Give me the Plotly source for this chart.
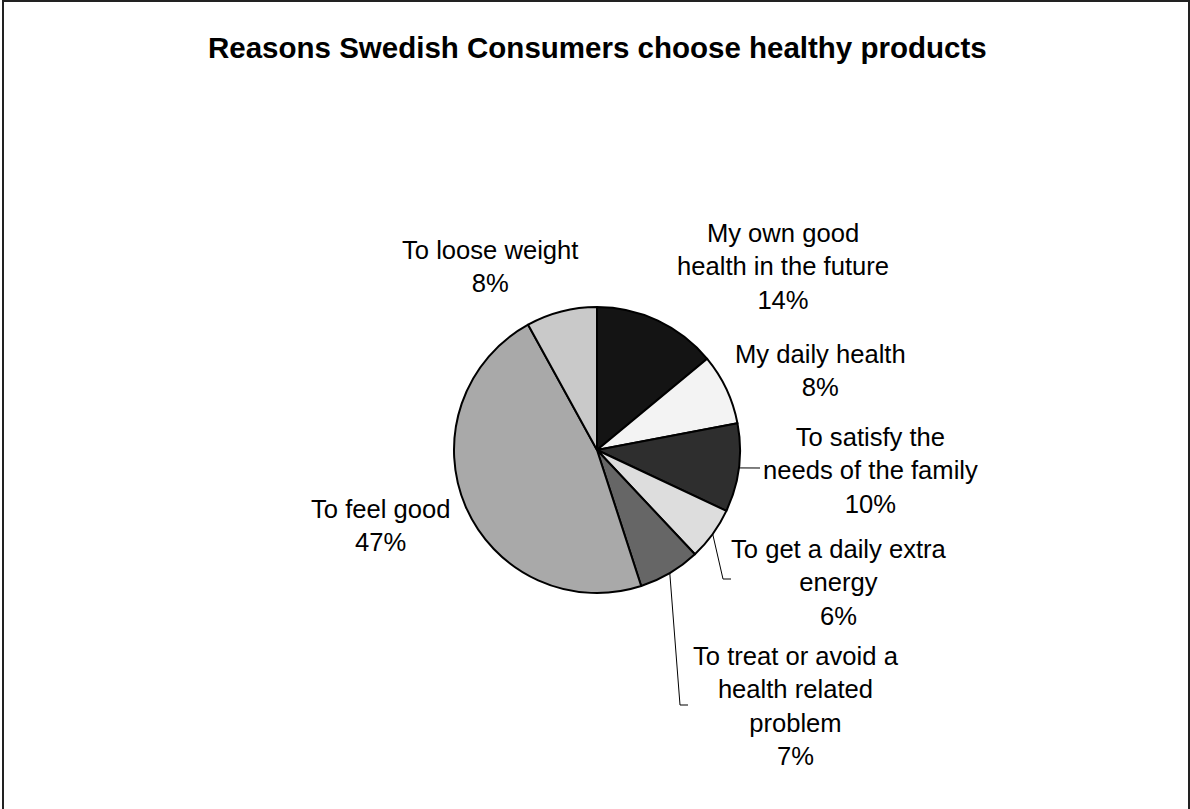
import math
import plotly.graph_objects as go

W, H = 1190, 809

categories = [
    "My own good<br>health in the future",
    "My daily health",
    "To satisfy the<br>needs of the family",
    "To get a daily extra<br>energy",
    "To treat or avoid a<br>health related<br>problem",
    "To feel good",
    "To loose weight",
]
values = [14, 8, 10, 6, 7, 47, 8]
colors = ["#141414", "#f3f3f3", "#2e2e2e", "#dddddd", "#666666", "#a9a9a9", "#c9c9c9"]

title_text = "Reasons Swedish Consumers choose healthy products"

# pie placement in pixels
cx, cy, R = 597, 450, 143

# label centre positions (pixels)
label_pos = [(783, 266), (820, 370), (870, 470), (839, 582), (796, 706), (381, 525), (490, 266)]


def px(x, y):
    return x / W, 1 - y / H


fig = go.Figure(go.Pie(
    labels=[c.replace("<br>", " ") for c in categories],
    values=values,
    sort=False,
    direction="clockwise",
    rotation=0,
    marker=dict(colors=colors, line=dict(color="black", width=2)),
    textinfo="none",
    hoverinfo="label+percent",
    showlegend=False,
    domain=dict(x=[(cx - R) / W, (cx + R) / W], y=[1 - (cy + R) / H, 1 - (cy - R) / H]),
))

total = sum(values)
annotations = []
for cat, v, (lx, ly) in zip(categories, values, label_pos):
    x, y = px(lx, ly)
    annotations.append(dict(
        x=x, y=y, xref="paper", yref="paper", showarrow=False,
        text=f"{cat}<br>{round(100 * v / total)}%",
        font=dict(family="Liberation Sans, Arial", size=25.6, color="black"),
        xanchor="center", yanchor="middle", align="center",
    ))

tx, ty = px(597, 48)
annotations.append(dict(
    x=tx, y=ty, xref="paper", yref="paper", showarrow=False,
    text=f"<b>{title_text}</b>",
    font=dict(family="Liberation Sans, Arial", size=29.5, color="black"),
    xanchor="center", yanchor="middle",
))


def edge_point(idx):
    cum = sum(values[:idx]) + values[idx] / 2
    ang = 2 * math.pi * cum / total
    return cx + R * math.sin(ang), cy - R * math.cos(ang)


# leader lines: slice index -> bend/end points (label side)
leaders = {
    2: [(760, 468)],
    3: [(723, 579), (731, 579)],
    4: [(680, 705), (688, 705)],
}
shapes = []
for idx, pts in leaders.items():
    sx, sy = edge_point(idx)
    path_pts = [(sx, sy)] + pts
    d = ""
    for i, (x, y) in enumerate(path_pts):
        X, Y = px(x, y)
        d += ("M" if i == 0 else " L") + f" {X} {Y}"
    shapes.append(dict(type="path", path=d, xref="paper", yref="paper",
                       line=dict(color="black", width=1)))

x0, y0 = px(3, 1)
x1, y1 = px(1189, 812)
shapes.append(dict(type="rect", xref="paper", yref="paper", x0=x0, y0=y1, x1=x1, y1=y0,
                   line=dict(color="#222222", width=2)))

fig.update_layout(
    width=W, height=H,
    margin=dict(l=0, r=0, t=0, b=0),
    paper_bgcolor="white", plot_bgcolor="white",
    annotations=annotations,
    shapes=shapes,
)

fig.write_html(
    "out.html",
    config={"displayModeBar": False},
    post_script="document.body.style.margin='0';document.body.style.overflow='hidden';",
)
